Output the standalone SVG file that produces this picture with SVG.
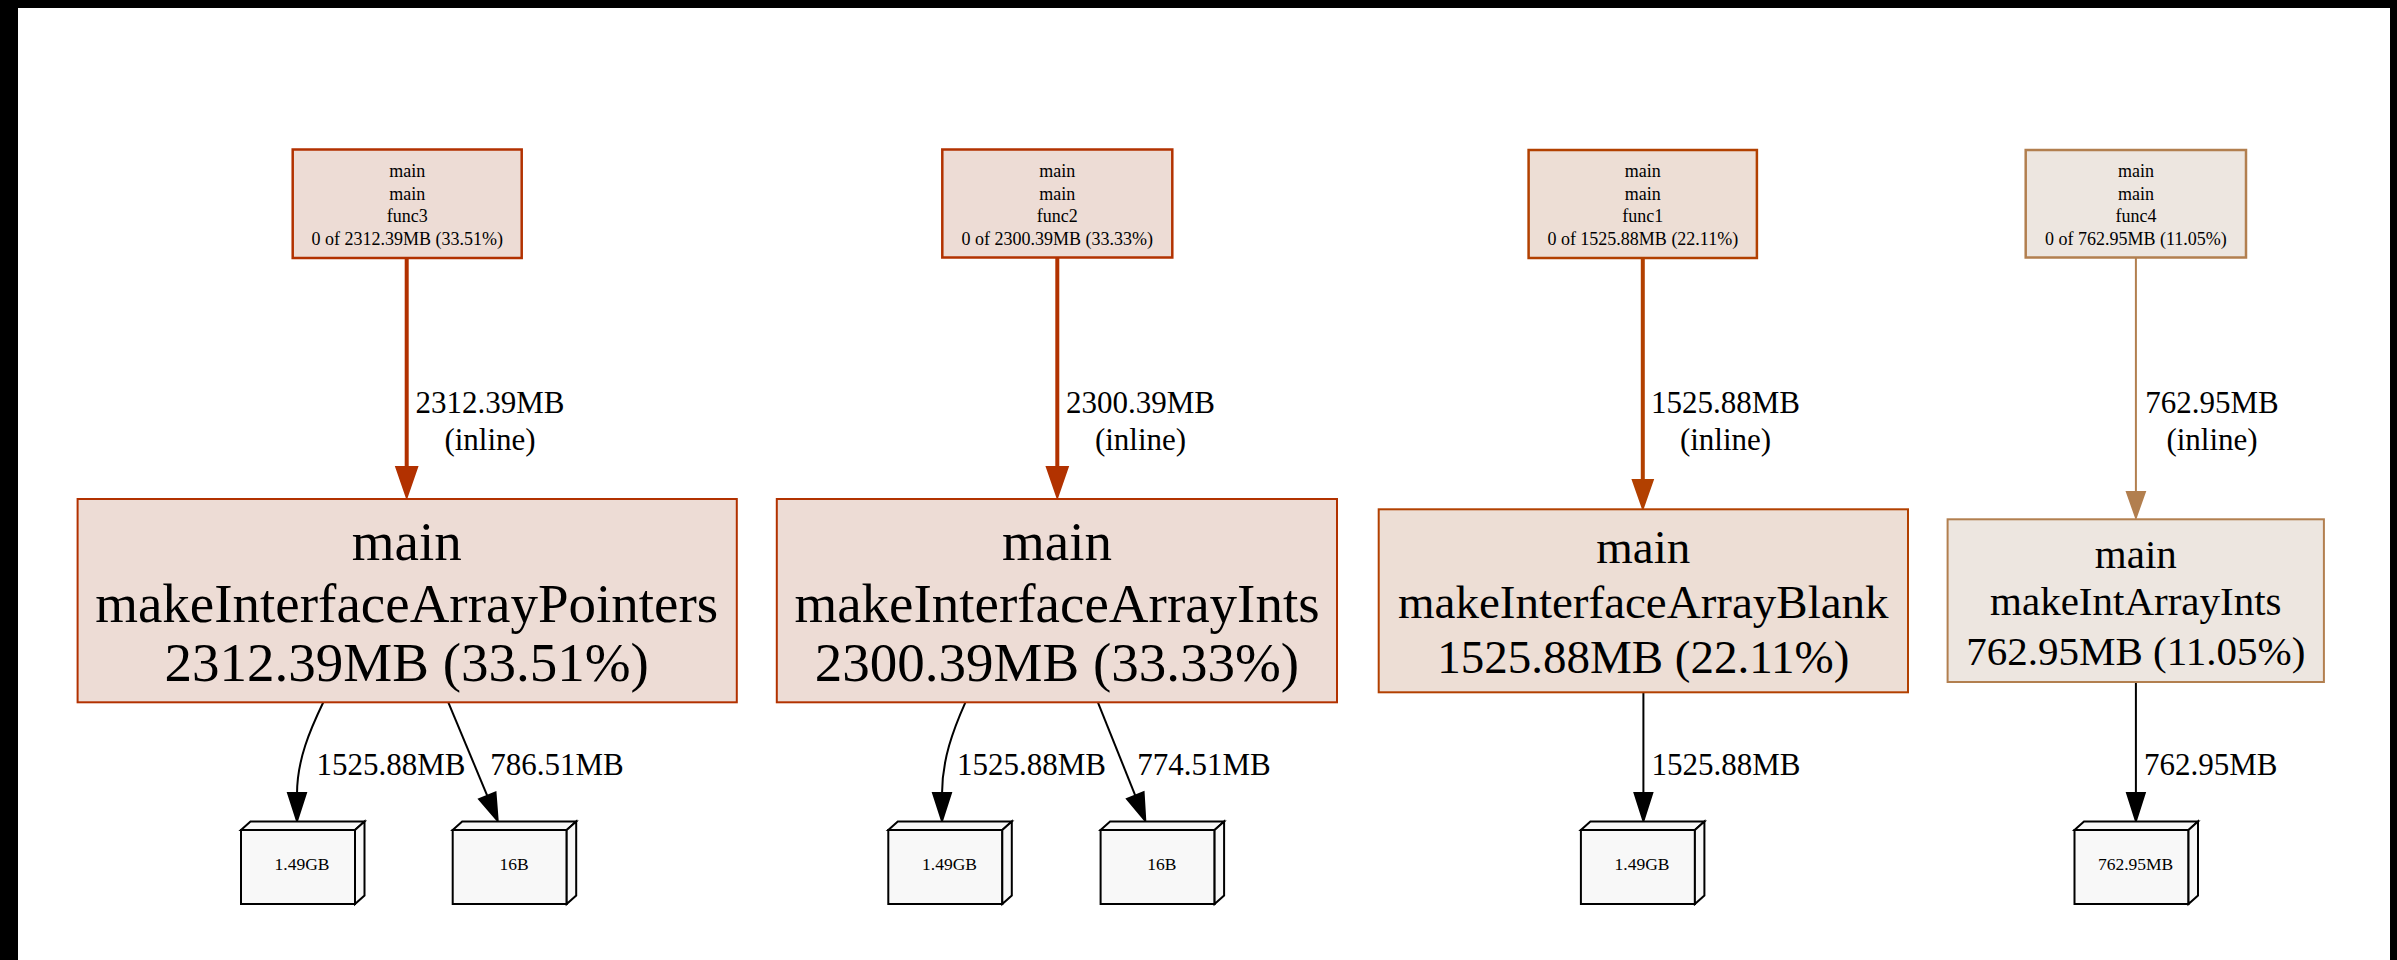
<svg xmlns="http://www.w3.org/2000/svg" width="2397" height="960" viewBox="0 0 2397 960">
<style>
text { font-family: "Liberation Serif", "Times New Roman", serif; fill: #000; text-anchor: middle; }
.s { font-size: 18px; }
.el { font-size: 31px; }
.lf { font-size: 17.5px; }
.b55 { font-size: 55px; }
.b47 { font-size: 47px; }
.b41 { font-size: 41px; }
.c1 { fill: #eddcd5; stroke: #b23100; stroke-width: 2; }
.c2 { fill: #eddcd5; stroke: #b23200; stroke-width: 2; }
.c3 { fill: #edded5; stroke: #b24000; stroke-width: 2; }
.c4 { fill: #ede6e0; stroke: #b27f4f; stroke-width: 2; }
.sm { stroke-width: 2.5; }
.bx path { fill: #f8f8f8; stroke: #000; stroke-width: 2; stroke-linejoin: miter; }
.e { fill: none; stroke: #000; stroke-width: 2; }
.ah { fill: #000; stroke: #000; stroke-width: 2; }
.t1 { fill: none; stroke: #b23100; stroke-width: 4; }
.t2 { fill: none; stroke: #b23200; stroke-width: 4; }
.t3 { fill: none; stroke: #b24000; stroke-width: 4; }
.t4 { fill: none; stroke: #b27f4f; stroke-width: 2; }
</style>
<defs>
<g id="box3d" class="bx">
<path d="M0,0 h114 v74 h-114 z"/>
<path d="M0,0 l9.5,-8.5 h114 l-9.5,8.5 z"/>
<path d="M114,0 l9.5,-8.5 v74 l-9.5,8.5 z"/>
</g>
</defs>
<rect width="2397" height="960" fill="#fff"/>
<rect x="0" y="0" width="2397" height="8" fill="#000"/>
<rect x="0" y="0" width="18" height="960" fill="#000"/>
<rect x="2390" y="0" width="7" height="960" fill="#000"/>

<g id="connectors">
<path class="t1" d="M406.7,258 V468"/>
<polygon fill="#b23100" stroke="#b23100" stroke-width="2" points="396.2,467 417.2,467 406.7,497.5"/>
<path class="t2" d="M1057.3,257.5 V468"/>
<polygon fill="#b23200" stroke="#b23200" stroke-width="2" points="1046.8,467 1067.8,467 1057.3,497.5"/>
<path class="t3" d="M1642.8,258 V481"/>
<polygon fill="#b24000" stroke="#b24000" stroke-width="2" points="1632.8,480 1652.8,480 1642.8,508.5"/>
<path class="t4" d="M2135.9,257.5 V493"/>
<polygon fill="#b27f4f" stroke="#b27f4f" stroke-width="2" points="2126.9,492 2144.9,492 2135.9,517.5"/>

<text class="el" x="490" y="413">2312.39MB</text>
<text class="el" x="490" y="450">(inline)</text>
<text class="el" x="1140.5" y="413">2300.39MB</text>
<text class="el" x="1140.5" y="450">(inline)</text>
<text class="el" x="1725.5" y="413">1525.88MB</text>
<text class="el" x="1725.5" y="450">(inline)</text>
<text class="el" x="2212" y="413">762.95MB</text>
<text class="el" x="2212" y="450">(inline)</text>

<path class="e" d="M323.3,702.3 C310,730 297,760 297,794"/>
<polygon class="ah" points="288,793 306,793 297,821"/>
<path class="e" d="M448.3,702.3 L487.3,795.8"/>
<polygon class="ah" points="495.5,792.4 479.1,799.2 497.7,820.7"/>
<path class="e" d="M965.4,702.3 C953,730 942,760 942,794"/>
<polygon class="ah" points="933,793 951,793 942,821"/>
<path class="e" d="M1097.9,702.3 L1135.3,795.6"/>
<polygon class="ah" points="1143.6,792.3 1127,798.9 1145.3,820.7"/>
<path class="e" d="M1643.4,692.3 V794"/>
<polygon class="ah" points="1634.5,793 1652.3,793 1643.4,821"/>
<path class="e" d="M2135.9,682 V794"/>
<polygon class="ah" points="2127,793 2144.8,793 2135.9,821"/>

<text class="el" x="391" y="775">1525.88MB</text>
<text class="el" x="557" y="775">786.51MB</text>
<text class="el" x="1031.5" y="775">1525.88MB</text>
<text class="el" x="1204" y="775">774.51MB</text>
<text class="el" x="1726" y="775">1525.88MB</text>
<text class="el" x="2210.7" y="775">762.95MB</text>
</g>

<g id="func3">
<rect class="c1 sm" x="292.7" y="149.5" width="229" height="108.5"/>
<text class="s" x="407.2" y="177">main</text>
<text class="s" x="407.2" y="199.5">main</text>
<text class="s" x="407.2" y="222">func3</text>
<text class="s" x="407.2" y="244.5">0 of 2312.39MB (33.51%)</text>
</g>
<g id="func2">
<rect class="c2 sm" x="942.3" y="149.5" width="230" height="108"/>
<text class="s" x="1057.3" y="177">main</text>
<text class="s" x="1057.3" y="199.5">main</text>
<text class="s" x="1057.3" y="222">func2</text>
<text class="s" x="1057.3" y="244.5">0 of 2300.39MB (33.33%)</text>
</g>
<g id="func1">
<rect class="c3 sm" x="1528.6" y="150" width="228.3" height="108"/>
<text class="s" x="1642.8" y="177">main</text>
<text class="s" x="1642.8" y="199.5">main</text>
<text class="s" x="1642.8" y="222">func1</text>
<text class="s" x="1642.8" y="244.5">0 of 1525.88MB (22.11%)</text>
</g>
<g id="func4">
<rect class="c4 sm" x="2025.7" y="150" width="220.3" height="107.5"/>
<text class="s" x="2135.9" y="177">main</text>
<text class="s" x="2135.9" y="199.5">main</text>
<text class="s" x="2135.9" y="222">func4</text>
<text class="s" x="2135.9" y="244.5">0 of 762.95MB (11.05%)</text>
</g>

<g id="makeInterfaceArrayPointers">
<rect class="c1" x="77.6" y="499" width="659.2" height="203.3"/>
<text class="b55" x="406.7" y="560">main</text>
<text class="b55" x="406.7" y="622">makeInterfaceArrayPointers</text>
<text class="b55" x="406.7" y="681">2312.39MB (33.51%)</text>
</g>
<g id="makeInterfaceArrayInts">
<rect class="c2" x="776.8" y="499" width="560.2" height="203.3"/>
<text class="b55" x="1057" y="560">main</text>
<text class="b55" x="1057" y="622">makeInterfaceArrayInts</text>
<text class="b55" x="1057" y="681">2300.39MB (33.33%)</text>
</g>
<g id="makeInterfaceArrayBlank">
<rect class="c3" x="1378.7" y="509.3" width="529.3" height="183"/>
<text class="b47" x="1643.3" y="563">main</text>
<text class="b47" x="1643.3" y="618">makeInterfaceArrayBlank</text>
<text class="b47" x="1643.3" y="673">1525.88MB (22.11%)</text>
</g>
<g id="makeIntArrayInts">
<rect class="c4" x="1947.6" y="519.3" width="376.3" height="162.7"/>
<text class="b41" x="2135.8" y="568">main</text>
<text class="b41" x="2135.8" y="615">makeIntArrayInts</text>
<text class="b41" x="2135.8" y="665">762.95MB (11.05%)</text>
</g>

<g id="leaf_p_149GB">
<use href="#box3d" x="241" y="830"/>
<text class="lf" x="302" y="870">1.49GB</text>
</g>
<g id="leaf_p_16B">
<use href="#box3d" x="452.7" y="830"/>
<text class="lf" x="514" y="870">16B</text>
</g>
<g id="leaf_i_149GB">
<use href="#box3d" x="888.3" y="830"/>
<text class="lf" x="949.5" y="870">1.49GB</text>
</g>
<g id="leaf_i_16B">
<use href="#box3d" x="1100.6" y="830"/>
<text class="lf" x="1161.8" y="870">16B</text>
</g>
<g id="leaf_b_149GB">
<use href="#box3d" x="1580.9" y="830"/>
<text class="lf" x="1642" y="870">1.49GB</text>
</g>
<g id="leaf_a_76295MB">
<use href="#box3d" x="2074.5" y="830"/>
<text class="lf" x="2135.6" y="870">762.95MB</text>
</g>
</svg>
